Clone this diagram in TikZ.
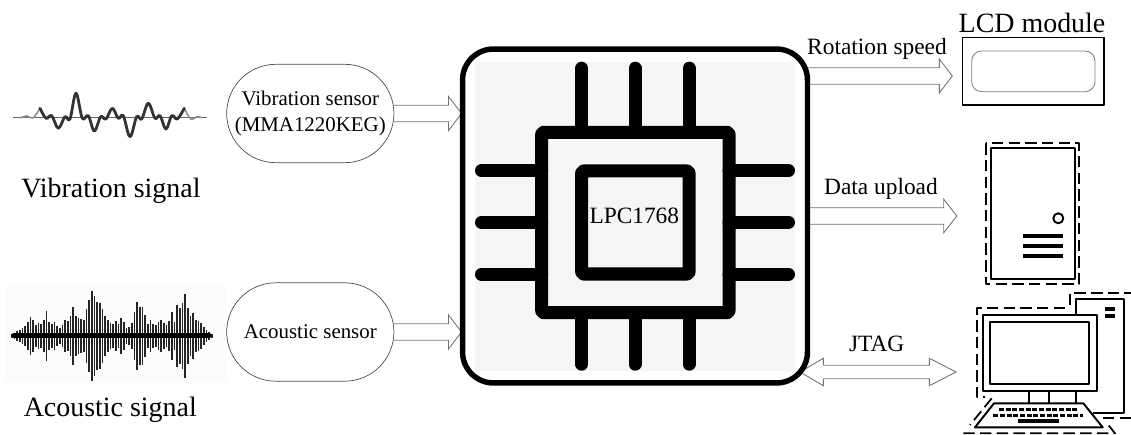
\documentclass[tikz,border=0pt]{standalone}
\usepackage{fontspec}
\setmainfont{Liberation Serif}
\usetikzlibrary{calc,backgrounds,shapes.misc}
\begin{document}
\begin{tikzpicture}[>=stealth,x=0.02cm,y=-0.02cm, line join = round]
                \tikzset{big label/.style={font=\fontsize{15.9}{18}\selectfont,anchor=base,inner sep=0pt},
                mid label/.style={font=\fontsize{13.3}{16}\selectfont,anchor=base,inner sep=0pt},
                sensor/.style={draw=black!70,line width=0.4pt,rounded rectangle,minimum width=3.346cm,minimum height=1.968cm,inner sep=0pt,outer sep=0pt,align=center,font=\fontsize{11.9}{15.3}\selectfont},
                pin/.style={line width=7.4pt,line cap=round},
                hollow/.style={draw=black!55,line width=0.5pt,to path={($(\tikztostart)+(0,-8.3)$) -- ($(\tikztotarget)+(-13,-8.3)$) -- ($(\tikztotarget)+(-13,-17)$) -- (\tikztotarget) -- ($(\tikztotarget)+(-13,17)$) -- ($(\tikztotarget)+(-13,8.3)$) -- ($(\tikztostart)+(0,8.3)$)}},
                hollow both/.style={draw=black!55,line width=0.5pt,to path={(\tikztostart) -- ($(\tikztostart)+(23.3,-13.7)$) -- ($(\tikztostart)+(23.3,-6.7)$) -- ($(\tikztotarget)+(-26.7,-6.7)$) -- ($(\tikztotarget)+(-26.7,-13.7)$) -- (\tikztotarget) -- ($(\tikztotarget)+(-26.7,13.7)$) -- ($(\tikztotarget)+(-26.7,6.7)$) -- ($(\tikztostart)+(23.3,6.7)$) -- ($(\tikztostart)+(23.3,13.7)$) -- cycle}},
                device/.style={line width=1.1pt},
                guard/.style={line width=1pt,dash pattern=on 6.5pt off 3pt}}
                \useasboundingbox (0,0) rectangle (1131,435);
                \node[draw,fill=white,line width=3.1pt,rounded corners=0.62cm,minimum width=6.9cm,minimum height=6.68cm,outer sep=0pt] (chip) at (635,216) {};
                \fill[black!4] (475,61.7) rectangle (795,370.7);
                \foreach \p in {581.7,635,689} {
                    \draw[pin] (\p,68.2)--(\p,132);
                    \draw[pin] (\p,313)--(\p,364.2);
                }
                \foreach \p in {170.7,222.3,274.3} {
                    \draw[pin] (481.5,\p)--(541.7,\p);
                    \draw[pin] (729,\p)--(788.5,\p);
                }
                \draw[line width=7.4pt,rounded corners=1pt] (541.7,132.3) rectangle (729,312.7);
                \draw[line width=7.4pt,rounded corners=1pt] (581.7,171) rectangle (689,274);
                \node[mid label] (mcu) at (634.3,223.3) {LPC1768};
                \draw[black!60,line width=0.4pt] (13,117.7)--(207,117.7);
                \draw[black!45,line width=0.9pt] plot[smooth,tension=0.6] coordinates {(20,118) (27,116) (33,118) (40,108.3)};
                \draw[black!45,line width=0.9pt] plot[smooth,tension=0.6] coordinates {(184.3,108.3) (190.7,119) (197,116.7) (202,117.7)};
                \draw[black!80,line width=1.6pt,line cap=round] plot[smooth,tension=0.6] coordinates {(40,108.3) (46,118.3) (51.7,115.7) (58.3,128.3) (65,116.7) (70,119) (76,93.3) (82.3,118.3) (88.3,115.7) (94.3,131) (100.7,116.7) (106,119) (112.3,108.3) (118.3,118.3) (123.3,115.7) (130,136.7) (136.7,116.7) (141.7,119) (148.3,103.3) (155,118.3) (160,115.7) (166,129) (171.7,115.7) (177.3,119) (184.3,108.3)};
                \node[big label] (vibsignal) at (111,198) {Vibration signal};
                \fill[black!1] (6,285) rectangle (226,382);
                \foreach \h [count=\i from 0] in {2,3,5,6,8,10,14,19,16,11,13,12,16,25,14,12,14,10,8,11,16,15,20,29,20,18,17,16,27,36,45,40,34,33,27,20,16,13,12,15,12,18,14,8,9,13,24,34,29,29,21,12,16,12,11,14,16,13,11,15,24,14,31,28,33,42,28,20,23,16,15,13,9,6,4,2}
                    \draw[black!85,line width=0.95pt] ({11.7+2.667*\i},335.7-\h)--({11.7+2.667*\i},335.7+\h);
                \draw[line width=3pt,line cap=round] (14,335.7)--(209,335.7);
                \node[big label] (acsignal) at (110.3,416.7) {Acoustic signal};
                \node[sensor] (vibsensor) at (310.3,113.5) {Vibration sensor\\(MMA1220KEG)};
                \node[sensor] (acsensor) at (310.3,332) {Acoustic sensor};
                \coordinate (vibtip) at ($(vibsensor.east -| chip.west)+(-1,0)$);
                \coordinate (actip) at ($(acsensor.east -| chip.west)+(-1,0)$);
                \node[draw,line width=0.8pt,minimum width=2.826cm,minimum height=1.346cm,outer sep=0pt] (lcd) at (1033.3,71.3) {};
                \draw[black!50,line width=0.5pt,rounded corners=0.2cm] (971.7,51) rectangle (1095,91.7);
                \node[big label] (lcdtext) at (1032,33) {LCD module};
                \node[draw,device,minimum width=1.68cm,minimum height=2.614cm,outer sep=0pt] (server) at (1033,213.7) {};
                \draw[guard] (986,143.3) rectangle (1079.3,284);
                \draw[device] (1058.3,218.3) circle (5);
                \foreach \p in {236,246,255.7}
                    \draw[line width=2.2pt] (1023,\p)--(1063,\p);
                \node[draw,device,minimum width=2.28cm,minimum height=1.526cm,outer sep=0pt] (monitor) at (1039.7,352.9) {};
                \draw[device] (990,322.3) rectangle (1089.3,384.3);
                \draw[device] (1029.3,391)--(1029.3,403.3) (1049,391)--(1049,403.3) (1076.3,391)--(1076.3,403.3);
                \draw[device] (1076.3,314.7)--(1076.3,298.7)--(1124,298.7)--(1124,412.7)--(1093,412.7);
                \draw[line width=2.2pt] (1105,309)--(1115,309) (1105,316)--(1115,316);
                \draw[device] (994,403.3)--(1083.3,403.3)--(1102.7,427.3)--(975,427.3)--cycle;
                \draw[line width=2pt,dash pattern=on 2.8pt off 1pt] (999,409.3)--(1076.7,409.3);
                \draw[line width=2pt,dash pattern=on 2.8pt off 1pt] (993.3,415.3)--(1082.7,415.3);
                \draw[line width=2.2pt] (1018,420.7)--(1059,420.7);
                \draw[guard] (1065,308.3)--(976.7,308.3)--(976.7,397)--(985,397);
                \draw[guard] (991.7,398.3)--(970,425);
                \draw[guard] (963.3,433.3)--(1115,433.3)--(1108.3,425);
                \draw[guard] (1103,418.3)--(1131,418.3);
                \draw[guard] (1070,305)--(1070,292.7)--(1131,292.7);
                \coordinate (rotout) at (807,76);
                \coordinate (rottip) at (952.3,76);
                \coordinate (dataout) at (807,216);
                \coordinate (datatip) at (956.7,216);
                \coordinate (jtagout) at (800,372);
                \coordinate (jtagtip) at (956,372);
                \begin{pgfonlayer}{background}
                \draw[hollow] (vibsensor.east) to (vibtip);
                \draw[hollow] (acsensor.east) to (actip);
                \draw[hollow] (rotout) to (rottip);
                \draw[hollow] (dataout) to (datatip);
                \draw[hollow both] (jtagout) to (jtagtip);
                \end{pgfonlayer}
                \node[mid label] (rottext) at (877,55) {Rotation speed};
                \node[mid label] (datatext) at (881,195) {Data upload};
                \node[mid label] (jtagtext) at (876.7,351) {JTAG};
            \end{tikzpicture}
\end{document}
